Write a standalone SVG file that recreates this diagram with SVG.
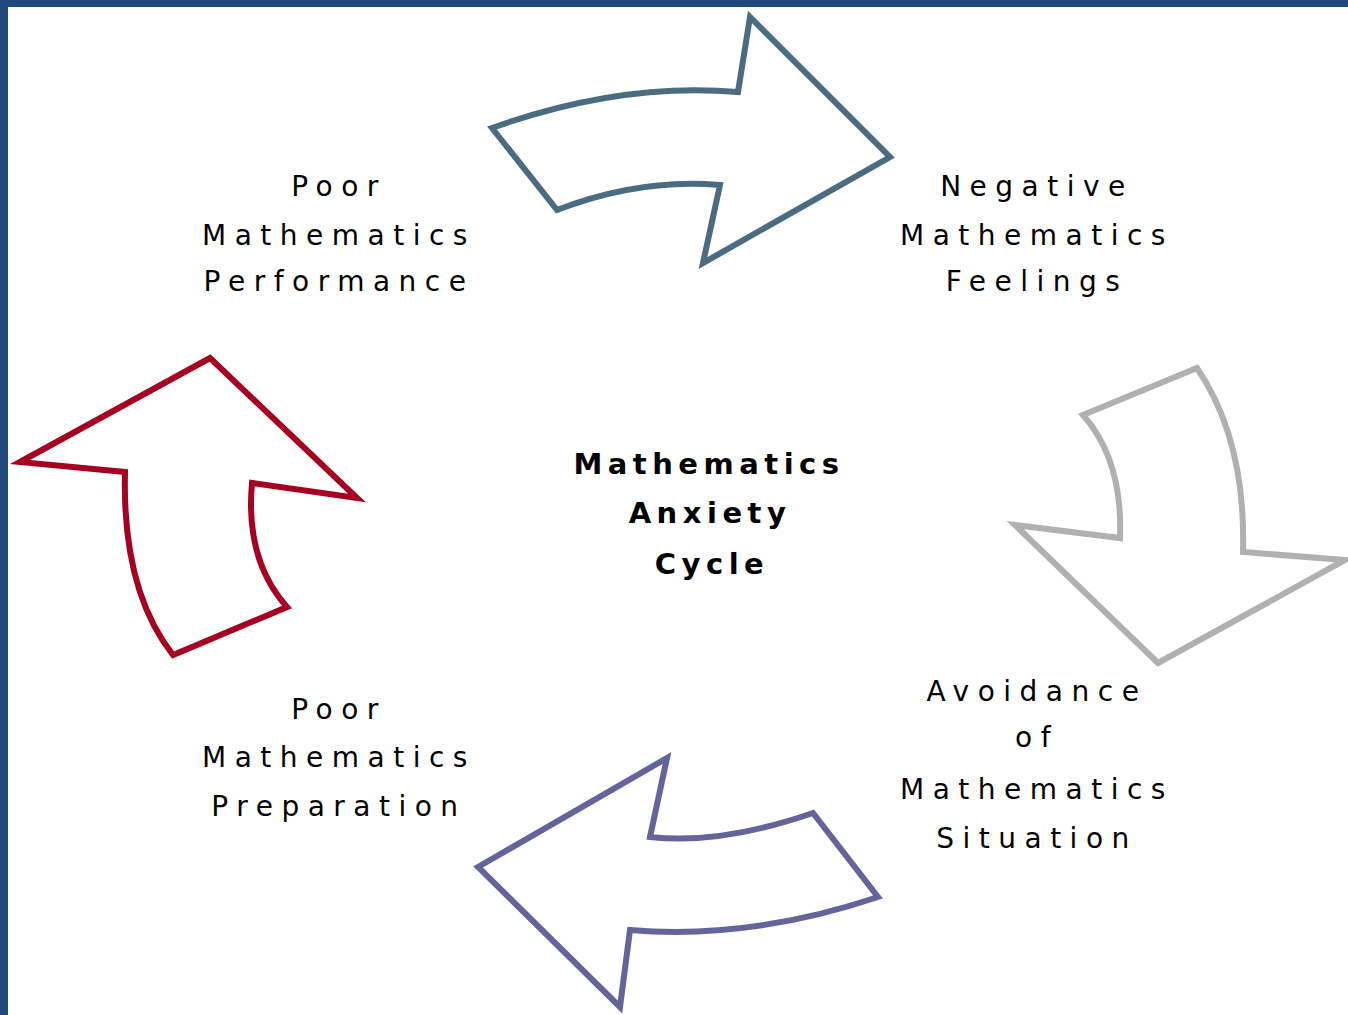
<svg xmlns="http://www.w3.org/2000/svg" width="1348" height="1015" viewBox="0 0 1348 1015">
<style>
.lbl{font-family:"DejaVu Sans",Verdana,sans-serif;font-size:28px;letter-spacing:8.5px;fill:#000;text-anchor:middle}
.ttl{font-family:"DejaVu Sans",Verdana,sans-serif;font-size:29px;font-weight:bold;letter-spacing:5.5px;fill:#000;text-anchor:middle}
.arr{fill:#fff;stroke-width:6;stroke-linejoin:miter;stroke-miterlimit:10}
</style>
<rect x="0" y="0" width="1348" height="1015" fill="#fff"/>
<rect x="0" y="0" width="1348" height="7" fill="#1F497D"/>
<rect x="0" y="0" width="8" height="1015" fill="#1F497D"/>
<g id="connectors">
<path id="arrow-top" class="arr" stroke="#4B6B81" d="M492,128 Q620,82 738,92 L750,17 L890,157 L703,263 L720,185 Q640,178 557,210 Z"/>
<path id="arrow-right" class="arr" stroke="#B0B0B0" d="M1083,415 L1197,368 Q1246,440 1243,552 L1345,560 L1158,663 L1015,525 L1120,538 Q1123,460 1083,415 Z"/>
<path id="arrow-bottom" class="arr" stroke="#64649A" d="M478,867 L667,758 L650,837 Q720,845 813,813 L878,897 Q750,940 630,930 L620,1007 Z"/>
<path id="arrow-left" class="arr" stroke="#A50021" d="M20,462 L210,358 L357,498 L252,483 Q245,560 287,607 L173,655 Q122,590 125,472 Z"/>
</g>
<g id="node-performance">
<text class="lbl" x="339" y="196">Poor</text>
<text class="lbl" x="339" y="245">Mathematics</text>
<text class="lbl" x="339" y="291">Performance</text>
</g>
<g id="node-feelings">
<text class="lbl" x="1037" y="196">Negative</text>
<text class="lbl" x="1037" y="245">Mathematics</text>
<text class="lbl" x="1037" y="291">Feelings</text>
</g>
<g id="node-avoidance">
<text class="lbl" x="1037" y="701">Avoidance</text>
<text class="lbl" x="1037" y="747">of</text>
<text class="lbl" x="1037" y="799">Mathematics</text>
<text class="lbl" x="1037" y="848">Situation</text>
</g>
<g id="node-preparation">
<text class="lbl" x="339" y="719">Poor</text>
<text class="lbl" x="339" y="767">Mathematics</text>
<text class="lbl" x="339" y="816">Preparation</text>
</g>
<g id="node-center">
<text class="ttl" x="709" y="474">Mathematics</text>
<text class="ttl" x="710" y="523">Anxiety</text>
<text class="ttl" x="712" y="574">Cycle</text>
</g>
</svg>
